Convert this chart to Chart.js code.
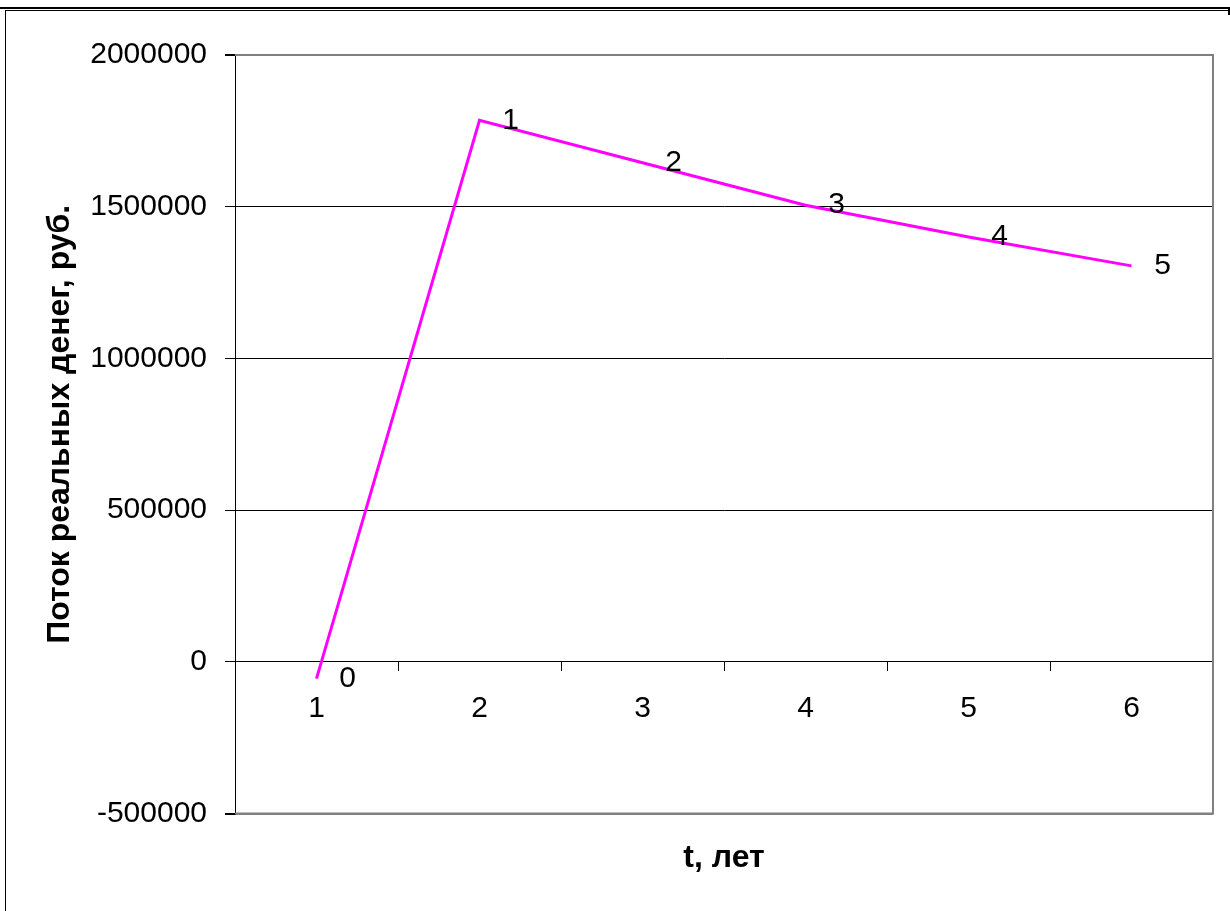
<!DOCTYPE html>
<html>
<head>
<meta charset="utf-8">
<script src="https://cdn.jsdelivr.net/npm/chart.js@4.4.1/dist/chart.umd.min.js"></script>
<style>
  html, body { margin: 0; padding: 0; background: #fff; }
  #wrap { position: relative; width: 1230px; height: 911px; }
</style>
</head>
<body>
<div id="wrap"><canvas id="flowChart" width="1230" height="911"></canvas></div>
<script>
// Chart data
const years = ['1', '2', '3', '4', '5', '6'];
const realFlow = [-55000, 1785000, 1645000, 1505000, 1400000, 1305000];
const pointLabels = ['0', '1', '2', '3', '4', '5'];
const yTicks = [-500000, 0, 500000, 1000000, 1500000, 2000000];
const yTitle = 'Поток реальных денег, руб.';

const FONT = "'Liberation Sans', Arial, sans-serif";

// frame around the chart, plot area border, y title and point labels
const decorPlugin = {
    id: 'decor',
    beforeDraw(chart) {
        const ctx = chart.ctx;
        ctx.save();
        ctx.fillStyle = '#000';
        ctx.fillRect(0, 7, chart.width, 2);
        ctx.fillRect(5, 10, chart.width - 7, 1);
        ctx.fillRect(5, 10, 1, chart.height - 10);
        ctx.fillRect(chart.width - 2, 7, 2, 8);
        ctx.restore();
    },
    beforeDatasetsDraw(chart) {
        const a = chart.chartArea;
        const ctx = chart.ctx;
        ctx.save();
        ctx.strokeStyle = '#808080';
        ctx.lineWidth = 2;
        ctx.beginPath();
        ctx.moveTo(a.left, a.top);
        ctx.lineTo(a.right, a.top);
        ctx.lineTo(a.right, a.bottom);
        ctx.lineTo(a.left, a.bottom);
        ctx.stroke();

        // y axis title
        ctx.translate(60, (a.top + a.bottom) / 2 - 10);
        ctx.rotate(-Math.PI / 2);
        ctx.fillStyle = '#000';
        ctx.font = 'bold 32px ' + FONT;
        ctx.textAlign = 'center';
        ctx.textBaseline = 'middle';
        ctx.fillText(yTitle, 0, 0);
        ctx.restore();
    },
    afterDatasetsDraw(chart) {
        const ctx = chart.ctx;
        const meta = chart.getDatasetMeta(0);
        ctx.save();
        ctx.fillStyle = '#000';
        ctx.font = '30px ' + FONT;
        ctx.textAlign = 'center';
        ctx.textBaseline = 'middle';
        meta.data.forEach((pt, i) => {
            ctx.fillText(pointLabels[i], pt.x + 31, pt.y);
        });
        ctx.restore();
    }
};

const ctx = document.getElementById('flowChart').getContext('2d');
new Chart(ctx, {
    type: 'line',
    data: {
        labels: years,
        datasets: [{
            data: realFlow,
            borderColor: '#ff00ff',
            borderWidth: 3,
            pointRadius: 0,
            tension: 0,
            fill: false,
            clip: false
        }]
    },
    options: {
        responsive: false,
        animation: false,
        events: [],
        layout: {
            padding: { top: 55, right: 17, left: 0, bottom: 0 }
        },
        plugins: {
            legend: { display: false },
            tooltip: { enabled: false },
            title: {
                display: true,
                position: 'bottom',
                fullSize: false,
                text: 't, лет',
                color: '#000',
                font: { family: FONT, size: 32, weight: 'bold' },
                padding: { top: 25, bottom: 34 }
            }
        },
        scales: {
            x: {
                type: 'category',
                position: { y: 0 },
                offset: true,
                grid: {
                    offset: true,
                    drawOnChartArea: false,
                    drawTicks: true,
                    tickLength: 9,
                    tickColor: '#000'
                },
                border: { display: true, color: '#000', width: 1 },
                ticks: {
                    color: '#000',
                    padding: 20,
                    maxRotation: 0,
                    font: { family: FONT, size: 30 }
                }
            },
            y: {
                min: -500000,
                max: 2000000,
                afterBuildTicks(scale) {
                    scale.ticks = yTicks.map(v => ({ value: v }));
                },
                afterFit(scale) {
                    scale.width = 235;
                },
                grid: {
                    color: c => (c.tick && (c.tick.value === 2000000 || c.tick.value === -500000)) ? '#808080' : '#000',
                    lineWidth: c => (c.tick && (c.tick.value === 2000000 || c.tick.value === -500000)) ? 2 : 1,
                    tickColor: '#000',
                    tickLength: 10
                },
                border: { display: true, color: '#000', width: 1 },
                ticks: {
                    color: '#000',
                    padding: 18,
                    font: { family: FONT, size: 30 },
                    callback: v => String(v)
                }
            }
        }
    },
    plugins: [decorPlugin]
});
</script>
</body>
</html>
